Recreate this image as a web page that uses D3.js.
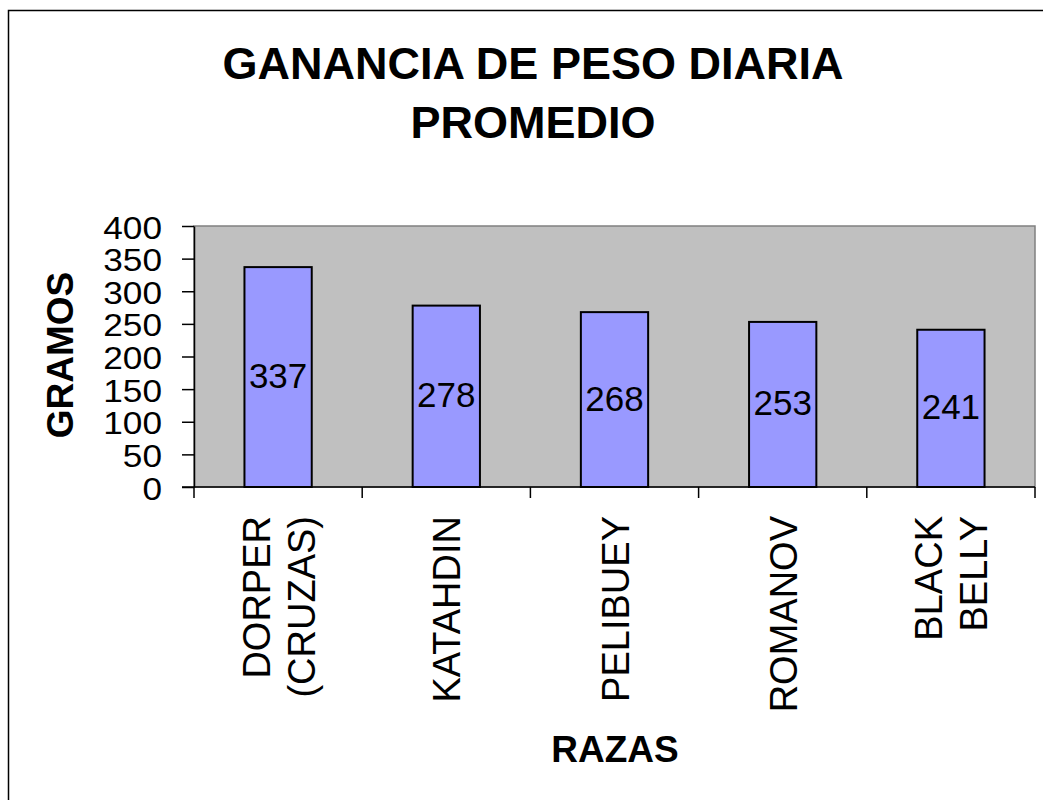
<!DOCTYPE html>
<html>
<head>
<meta charset="utf-8">
<script src="https://cdn.jsdelivr.net/npm/d3@7"></script>
<style>
  body { margin: 0; background: #fff; }
  svg text { font-family: "Liberation Sans", Arial, sans-serif; fill: #000; }
</style>
</head>
<body>
<script>
// chart data
const razas = ["DORPER (CRUZAS)", "KATAHDIN", "PELIBUEY", "ROMANOV", "BLACK BELLY"];
const razaLines = [["DORPER", "(CRUZAS)"], ["KATAHDIN"], ["PELIBUEY"], ["ROMANOV"], ["BLACK", "BELLY"]];
const gramos = [337, 278, 268, 253, 241];
const yTicks = [0, 50, 100, 150, 200, 250, 300, 350, 400];
const titleLines = ["GANANCIA DE PESO DIARIA", "PROMEDIO"];

const W = 1043, H = 800;
const plot = {left: 194, right: 1035, top: 226, bottom: 487};

const svg = d3.select('body').append('svg')
  .attr('width', W)
  .attr('height', H);

// outer chart border (runs off the right / bottom edge)
svg.append('rect')
  .attr('x', 8.5).attr('y', 10.5)
  .attr('width', 1100).attr('height', 900)
  .attr('fill', '#fff')
  .attr('stroke', '#000')
  .attr('stroke-width', 1.5);

const x = d3.scaleBand()
  .domain(razas)
  .range([plot.left, plot.right])
  .paddingInner(0.6)
  .paddingOuter(0.3);

const y = d3.scaleLinear()
  .domain([0, 400])
  .range([plot.bottom, plot.top]);

// plot area
svg.append('rect')
  .attr('x', plot.left).attr('y', plot.top)
  .attr('width', plot.right - plot.left)
  .attr('height', plot.bottom - plot.top)
  .attr('fill', '#c0c0c0')
  .attr('stroke', '#808080')
  .attr('stroke-width', 1.5);

// bars
svg.selectAll('rect.bar')
  .data(gramos)
  .enter()
  .append('rect')
  .attr('class', 'bar')
  .attr('x', (d, i) => x(razas[i]))
  .attr('y', d => y(d))
  .attr('width', x.bandwidth())
  .attr('height', d => y(0) - y(d))
  .attr('fill', '#9999ff')
  .attr('stroke', '#000')
  .attr('stroke-width', 2);

// value labels in the middle of each bar
svg.selectAll('text.val')
  .data(gramos)
  .enter()
  .append('text')
  .attr('class', 'val')
  .attr('x', (d, i) => x(razas[i]) + x.bandwidth() / 2)
  .attr('y', d => (y(d) + y(0)) / 2 + 11)
  .attr('text-anchor', 'middle')
  .style('font-size', '35px')
  .text(d => d);

// y axis
const yAxis = svg.append('g')
  .attr('transform', 'translate(' + plot.left + ',0)')
  .call(d3.axisLeft(y).tickValues(yTicks).tickSize(12).tickSizeOuter(0).tickFormat(d3.format('d')));
yAxis.select('.domain').attr('stroke', '#000').attr('stroke-width', 1.5);
yAxis.selectAll('.tick line').attr('stroke', '#000').attr('stroke-width', 1.5);
yAxis.selectAll('.tick text')
  .attr('x', 0)
  .attr('dy', null)
  .attr('y', 0)
  .attr('text-anchor', 'end')
  .attr('transform', 'translate(-32,12) scale(1.1,1)')
  .style('font-size', '32px')
  .style('font-family', '"Liberation Sans", Arial, sans-serif');

// x axis with ticks between categories
const xEdges = razas.map(r => x(r) - x.step() * x.paddingInner() / 2).concat([plot.right]);
svg.append('line')
  .attr('x1', plot.left - 12).attr('x2', plot.right)
  .attr('y1', y(0)).attr('y2', y(0))
  .attr('stroke', '#000').attr('stroke-width', 1.5);
svg.selectAll('line.xtick')
  .data(xEdges)
  .enter()
  .append('line')
  .attr('class', 'xtick')
  .attr('x1', d => d).attr('x2', d => d)
  .attr('y1', y(0)).attr('y2', y(0) + 11)
  .attr('stroke', '#000').attr('stroke-width', 1.5);

// category labels, rotated
const catFont = 38, catLine = 45, catCap = 28;
razaLines.forEach((lines, i) => {
  const cx = x(razas[i]) + x.bandwidth() / 2;
  lines.forEach((ln, j) => {
    const bx = cx + catCap / 2 + (j - (lines.length - 1) / 2) * catLine;
    svg.append('text')
      .attr('transform', 'translate(' + bx + ',516) rotate(-90)')
      .attr('text-anchor', 'end')
      .style('font-size', catFont + 'px')
      .text(ln);
  });
});

// title
svg.selectAll('text.title')
  .data(titleLines)
  .enter()
  .append('text')
  .attr('class', 'title')
  .attr('x', 533)
  .attr('y', (d, i) => 79 + i * 59)
  .attr('text-anchor', 'middle')
  .style('font-size', '45px')
  .style('font-weight', 'bold')
  .text(d => d);

// axis titles
svg.append('text')
  .attr('transform', 'translate(73,355) rotate(-90)')
  .attr('text-anchor', 'middle')
  .style('font-size', '37px')
  .style('font-weight', 'bold')
  .text('GRAMOS');

svg.append('text')
  .attr('x', 615)
  .attr('y', 762)
  .attr('text-anchor', 'middle')
  .style('font-size', '37px')
  .style('font-weight', 'bold')
  .text('RAZAS');
</script>
</body>
</html>
